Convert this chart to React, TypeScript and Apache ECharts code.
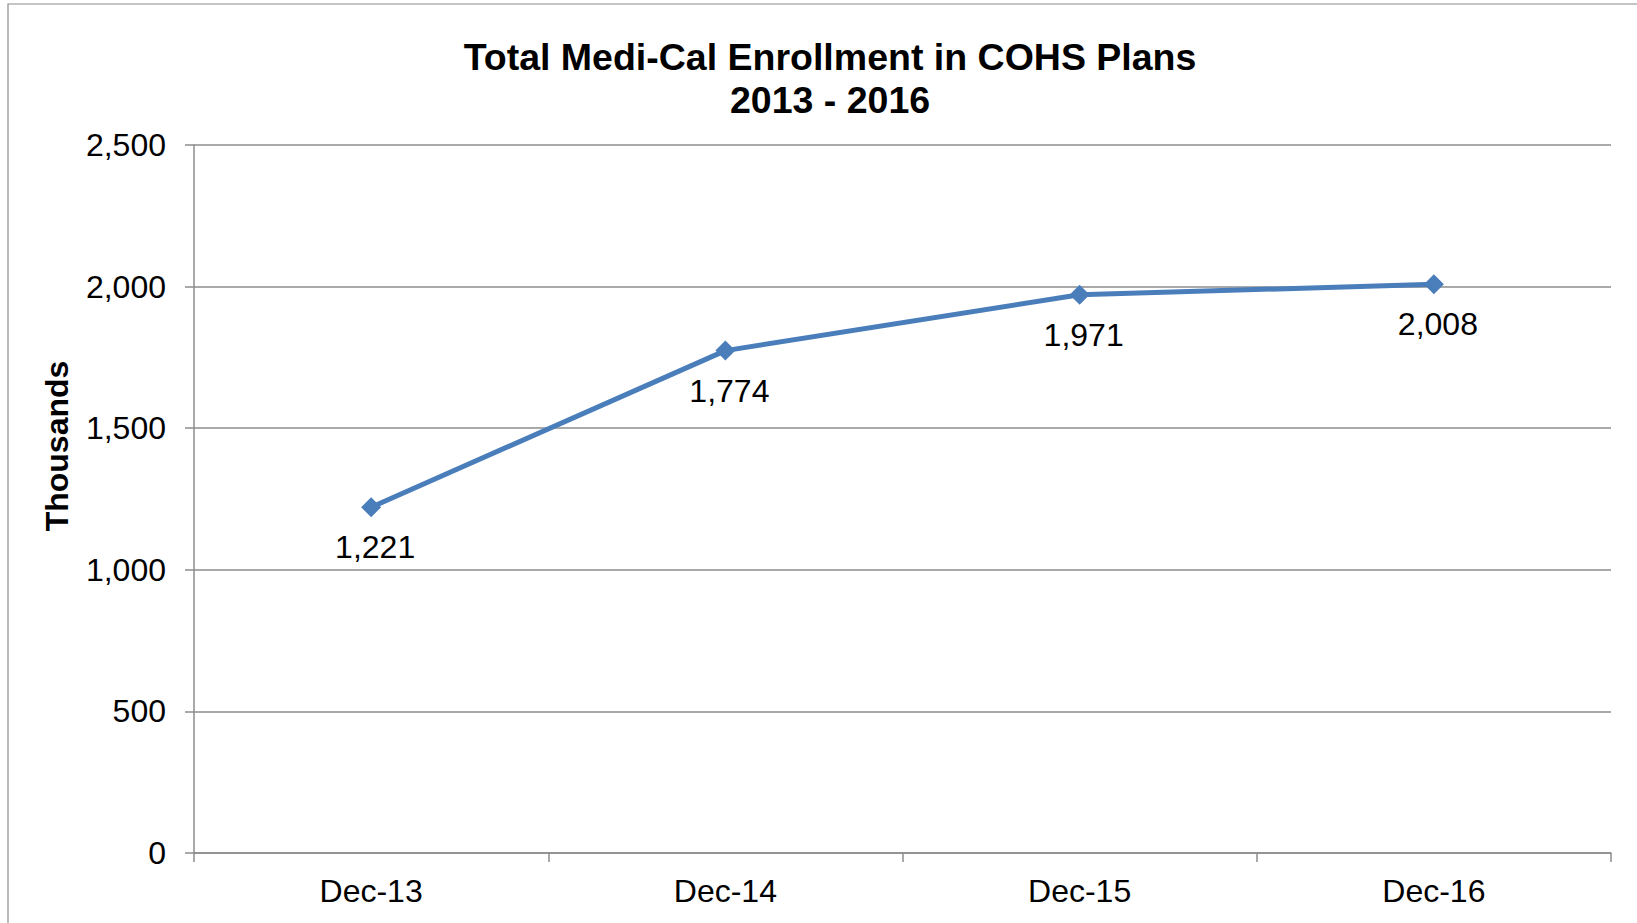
import React, { useEffect, useRef } from "react";
import * as echarts from "echarts";

const categories = ["Dec-13", "Dec-14", "Dec-15", "Dec-16"];
const enrollment = [1221, 1774, 1971, 2008];
const titleLines = ["Total Medi-Cal Enrollment in COHS Plans", "2013 - 2016"];
const yAxisTitle = "Thousands";
const yMin = 0;
const yMax = 2500;
const yStep = 500;

const FONT = "'Liberation Sans', Arial, sans-serif";
const GRID_COLOR = "#8c8c8c";
const LINE_COLOR = "#4A7EBB";

const fmt = (v: number) => v.toLocaleString("en-US");

export default function App() {
  const ref = useRef<HTMLDivElement>(null);
  useEffect(() => {
    if (!ref.current) return;
    const chart = echarts.init(ref.current, null, { renderer: "svg" });
    chart.setOption({
      animation: false,
      backgroundColor: "#ffffff",
      textStyle: { fontFamily: FONT },
      grid: { left: 194, right: 26, top: 145, bottom: 70, containLabel: false },
      graphic: [
        {
          type: "rect",
          shape: { x: 8, y: 4, width: 1700, height: 1000 },
          style: { fill: "none", stroke: "#8c8c8c", lineWidth: 1.2 },
          silent: true,
        },
        {
          type: "text",
          x: 830,
          y: 57,
          style: {
            text: titleLines[0],
            font: `bold 37.5px ${FONT}`,
            fill: "#000",
            align: "center",
            verticalAlign: "middle",
          },
        },
        {
          type: "text",
          x: 830,
          y: 100,
          style: {
            text: titleLines[1],
            font: `bold 37.5px ${FONT}`,
            fill: "#000",
            align: "center",
            verticalAlign: "middle",
          },
        },
        {
          type: "text",
          x: 57,
          y: 446,
          rotation: Math.PI / 2,
          style: {
            text: yAxisTitle,
            font: `bold 32px ${FONT}`,
            fill: "#000",
            align: "center",
            verticalAlign: "middle",
          },
        },
      ],
      xAxis: {
        type: "category",
        data: categories,
        boundaryGap: true,
        axisLine: { show: true, lineStyle: { color: GRID_COLOR, width: 1.5 } },
        axisTick: { show: true, length: 9, alignWithLabel: false, lineStyle: { color: GRID_COLOR, width: 1.5 } },
        axisLabel: { color: "#000", fontSize: 32, lineHeight: 32, fontFamily: FONT, margin: 22 },
        splitLine: { show: false },
      },
      yAxis: {
        type: "value",
        min: yMin,
        max: yMax,
        interval: yStep,
        axisLine: { show: true, lineStyle: { color: GRID_COLOR, width: 1.5 } },
        axisTick: { show: true, length: 9, lineStyle: { color: GRID_COLOR, width: 1.5 } },
        axisLabel: {
          color: "#000",
          fontSize: 32,
          lineHeight: 32,
          fontFamily: FONT,
          margin: 28,
          formatter: (v: number) => fmt(v),
        },
        splitLine: { show: true, lineStyle: { color: GRID_COLOR, width: 1.5 } },
      },
      series: [
        {
          type: "line",
          data: enrollment,
          symbol: "diamond",
          symbolSize: 20,
          lineStyle: { color: LINE_COLOR, width: 5 },
          itemStyle: { color: LINE_COLOR },
          label: {
            show: true,
            position: "bottom",
            distance: 14,
            offset: [4, 0],
            color: "#000",
            fontSize: 32,
            lineHeight: 32,
            fontFamily: FONT,
            formatter: (p: any) => fmt(p.value),
          },
        },
      ],
    });
    return () => chart.dispose();
  }, []);
  return (
    <div
      ref={ref}
      style={{ position: "absolute", left: 0, top: 0, width: 1637, height: 923 }}
    />
  );
}
